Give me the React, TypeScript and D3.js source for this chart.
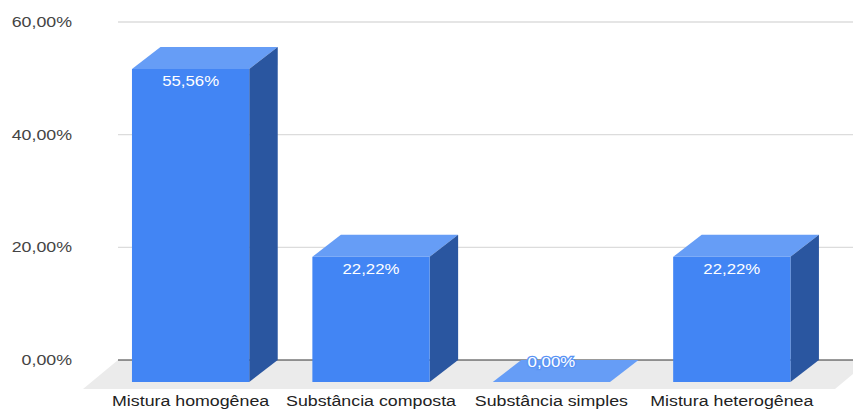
import React from "react";
import * as d3 from "d3";

const categories = ["Mistura homogênea", "Substância composta", "Substância simples", "Mistura heterogênea"];
const values = [55.56, 22.22, 0, 22.22];
const valueLabels = ["55,56%", "22,22%", "0,00%", "22,22%"];
const yTicks = [0, 20, 40, 60];
const yTickLabels = ["0,00%", "20,00%", "40,00%", "60,00%"];

const W = 853;
const H = 410;
const DX = 28.5;
const DY = 22;
const SX = 1.27;
const FONT = "Arial, 'Liberation Sans', sans-serif";

export default function App() {
  const y = d3.scaleLinear().domain([0, 60]).range([360, 22]);
  const x = d3
    .scaleBand<string>()
    .domain(categories)
    .range([100.4, 822])
    .paddingInner(0.35)
    .paddingOuter(0.175);
  const bw = x.bandwidth();
  const base = y(0);

  const floor = d3.path();
  floor.moveTo(118, base);
  floor.lineTo(870, base);
  floor.lineTo(835, base + 29);
  floor.lineTo(83, base + 29);
  floor.closePath();

  return (
    <svg
      width={W}
      height={H}
      style={{ position: "absolute", left: 0, top: 0, background: "#fff" }}
      fontFamily={FONT}
    >
      <path d={floor.toString()} fill="#ebebeb" />
      {yTicks.map((t, i) => (
        <g key={t}>
          <line
            x1={118}
            x2={W}
            y1={y(t)}
            y2={y(t)}
            stroke={t === 0 ? "#333" : "#dcdcdc"}
            strokeWidth={t === 0 ? 1 : 1.3}
          />
          <text
            transform={`translate(72,${y(t) + 5}) scale(${SX},1)`}
            textAnchor="end"
            fontSize={14}
            fill="#444"
          >
            {yTickLabels[i]}
          </text>
        </g>
      ))}
      {categories.map((c, i) => {
        const x0 = x(c)!;
        const x1 = x0 + bw;
        const top = y(values[i]);
        const fTop = top + DY;
        const fBot = base + DY;
        const cx = x0 + bw / 2;
        if (values[i] === 0) {
          const p = d3.path();
          p.moveTo(x0, fBot);
          p.lineTo(x1, fBot);
          p.lineTo(x1 + DX, base);
          p.lineTo(x0 + DX, base);
          p.closePath();
          return (
            <g key={c}>
              <path d={p.toString()} fill="#669df6" />
              <text
                transform={`translate(${cx},${base + 6.5}) scale(1.2,1)`}
                textAnchor="middle"
                fontSize={14}
                fill="#fff"
                stroke="#5a94f5"
                strokeWidth={2.5}
                paintOrder="stroke"
              >
                {valueLabels[i]}
              </text>
            </g>
          );
        }
        const topFace = d3.path();
        topFace.moveTo(x0, fTop);
        topFace.lineTo(x0 + DX, top);
        topFace.lineTo(x1 + DX, top);
        topFace.lineTo(x1, fTop);
        topFace.closePath();
        const side = d3.path();
        side.moveTo(x1, fTop);
        side.lineTo(x1 + DX, top);
        side.lineTo(x1 + DX, base);
        side.lineTo(x1, fBot);
        side.closePath();
        return (
          <g key={c}>
            <path d={topFace.toString()} fill="#669df6" />
            <path d={side.toString()} fill="#2a56a0" />
            <rect x={x0} y={fTop} width={bw} height={fBot - fTop} fill="#4285f4" />
            <text
              transform={`translate(${cx},${fTop + 17}) scale(1.2,1)`}
              textAnchor="middle"
              fontSize={14}
              fill="#fff"
            >
              {valueLabels[i]}
            </text>
          </g>
        );
      })}
      {categories.map((c) => (
        <text
          key={c + "-lbl"}
          transform={`translate(${x(c)! + bw / 2},${406}) scale(${SX},1)`}
          textAnchor="middle"
          fontSize={14}
          fill="#222"
        >
          {c}
        </text>
      ))}
    </svg>
  );
}
